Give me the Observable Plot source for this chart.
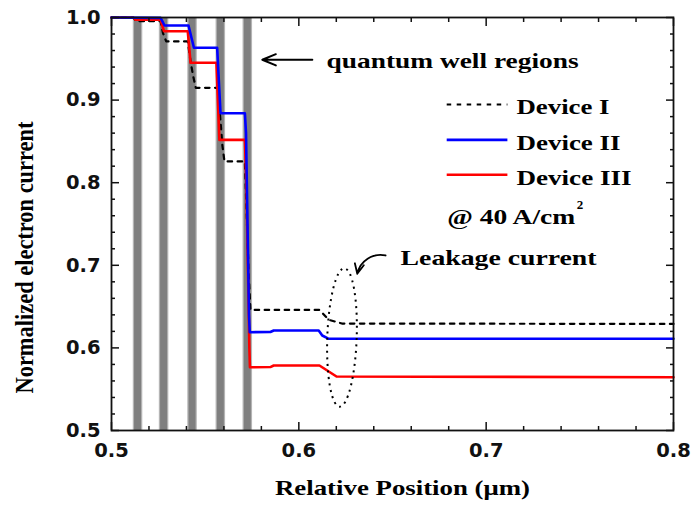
<!DOCTYPE html>
<html>
<head>
<meta charset="utf-8">
<script src="https://cdn.jsdelivr.net/npm/d3@7"></script>
<script src="https://cdn.jsdelivr.net/npm/@observablehq/plot@0.6"></script>
<style>
  body { margin: 0; background: #fff; }
  svg { display: block; }
</style>
</head>
<body>
<div id="chart"></div>
<script>
// ---------- data ----------
const devices = ["Device I", "Device II", "Device III"];

const xDeviceI = [0.5, 0.5117, 0.5130, 0.5262, 0.5275, 0.5292, 0.5407, 0.5420, 0.5435, 0.5450, 0.5568, 0.5580, 0.5592, 0.5603, 0.5712, 0.5722, 0.5732, 0.5742, 0.6110, 0.6160, 0.6230, 0.8];
const yDeviceI = [1.0, 1.0, 0.9955, 0.9955, 0.9810, 0.9710, 0.9710, 0.9500, 0.9300, 0.9149, 0.9149, 0.8800, 0.8450, 0.8257, 0.8257, 0.7600, 0.6900, 0.6460, 0.6460, 0.6340, 0.6295, 0.6290];

const xDeviceII = [0.5, 0.5262, 0.5283, 0.5411, 0.5440, 0.5564, 0.5582, 0.5712, 0.5718, 0.5726, 0.5734, 0.5738, 0.5848, 0.5866, 0.6106, 0.6125, 0.6160, 0.8];
const yDeviceII = [1.0, 0.9995, 0.9903, 0.9903, 0.9633, 0.9633, 0.8841, 0.8841, 0.8600, 0.7500, 0.6400, 0.6190, 0.6192, 0.6211, 0.6211, 0.6150, 0.6110, 0.6110];

const xDeviceIII = [0.5, 0.5117, 0.5128, 0.5262, 0.5280, 0.5407, 0.5422, 0.5560, 0.5576, 0.5712, 0.5720, 0.5728, 0.5736, 0.5739, 0.5848, 0.5866, 0.6110, 0.6201, 0.8];
const yDeviceIII = [1.0, 1.0, 0.9972, 0.9972, 0.9834, 0.9834, 0.9452, 0.9452, 0.8519, 0.8519, 0.8000, 0.7000, 0.6000, 0.5766, 0.5768, 0.5787, 0.5787, 0.5654, 0.5645];

const wellCenters = [0.5139, 0.5278, 0.5430, 0.5581, 0.5725];

const xMajor = [0.5, 0.6, 0.7, 0.8];
const xMinor = [0.52, 0.54, 0.56, 0.58, 0.62, 0.64, 0.66, 0.68, 0.72, 0.74, 0.76, 0.78];
const yMajor = [0.5, 0.6, 0.7, 0.8, 0.9, 1.0];
const yMinor = [0.52, 0.54, 0.56, 0.58, 0.62, 0.64, 0.66, 0.68, 0.72, 0.74, 0.76, 0.78, 0.82, 0.84, 0.86, 0.88, 0.92, 0.94, 0.96, 0.98];

const xLabel = "Relative Position (μm)";
const yLabel = "Normalized electron current";
const wellText = "quantum well regions";
const leakText = "Leakage current";
const condText = "@ 40 A/cm";
const condSup = "2";

// ---------- tables built from the arrays ----------
const toRows = (name, xs, ys) => xs.map((x, i) => ({device: name, x, y: ys[i]}));
const rowsI = toRows(devices[0], xDeviceI, yDeviceI);
const rowsII = toRows(devices[1], xDeviceII, yDeviceII);
const rowsIII = toRows(devices[2], xDeviceIII, yDeviceIII);

// ---------- styles / layout ----------
const styleI = {stroke: "#000", strokeWidth: 2.2, strokeDasharray: "4.5,5.5"};
const styleII = {stroke: "#0000ff", strokeWidth: 2.6};
const styleIII = {stroke: "#ff0000", strokeWidth: 2.6};
const legendStyles = [styleI, styleII, styleIII];
const legendLayout = {x1: 0.6792, x2: 0.7116, tx: 0.7162, ys: [0.8947, 0.8519, 0.8096]};
const serif = "Liberation Serif, Times New Roman, serif";
const textWidths = {
  [yLabel]: 272, [xLabel]: 255, [wellText]: 252, [leakText]: 196,
  "Device I": 93, "Device II": 104, "Device III": 115, [condText]: 128
};
const ellipseSpec = {cx: 0.6233, cy: 0.612, rx: 0.00785, ry: 0.0838};

function ellipseMark(index, scales) {
  if (!scales || !scales.x || !scales.y) return null;
  const cx = scales.x(ellipseSpec.cx), cy = scales.y(ellipseSpec.cy);
  const rx = Math.abs(scales.x(ellipseSpec.cx + ellipseSpec.rx) - cx);
  const ry = Math.abs(scales.y(ellipseSpec.cy + ellipseSpec.ry) - cy);
  const e = document.createElementNS("http://www.w3.org/2000/svg", "ellipse");
  e.setAttribute("cx", cx); e.setAttribute("cy", cy);
  e.setAttribute("rx", rx); e.setAttribute("ry", ry);
  e.setAttribute("fill", "none"); e.setAttribute("stroke", "#000");
  e.setAttribute("stroke-width", 2); e.setAttribute("stroke-dasharray", "2,4.5");
  e.setAttribute("transform", `rotate(2 ${cx} ${cy})`);
  return e;
}

const tickCommon = {stroke: "#111", strokeWidth: 1.5, label: null, tickFormat: () => ""};
const labelCommon = {label: null, tickSize: 0, tickFormat: d3.format(".1f"),
  fontSize: 19.5, fontWeight: "bold", fontFamily: "DejaVu Sans", fill: "#111"};

const plot = Plot.plot({
  width: 691,
  height: 510,
  marginLeft: 111,
  marginRight: 18,
  marginTop: 17,
  marginBottom: 80,
  style: {background: "#fff", overflow: "visible"},
  x: {domain: [0.5, 0.8]},
  y: {domain: [0.5, 1.0]},
  marks: [
    // quantum well bars
    Plot.ruleX(wellCenters, {x: d => d, stroke: "#b4b4b4", strokeWidth: 9.5}),
    Plot.ruleX(wellCenters, {x: d => d, stroke: "#7f7f7f", strokeWidth: 7}),
    // curves
    Plot.line(rowsI, {x: "x", y: "y", ...styleI}),
    Plot.line(rowsIII, {x: "x", y: "y", ...styleIII}),
    Plot.line(rowsII, {x: "x", y: "y", ...styleII}),
    // frame
    Plot.frame({stroke: "#111", strokeWidth: 1.8}),
    // inward ticks
    Plot.axisX({ticks: xMajor, anchor: "bottom", tickSize: -8, ...tickCommon}),
    Plot.axisX({ticks: xMajor, anchor: "top", tickSize: -8, ...tickCommon}),
    Plot.axisX({ticks: xMinor, anchor: "bottom", tickSize: -4, ...tickCommon}),
    Plot.axisX({ticks: xMinor, anchor: "top", tickSize: -4, ...tickCommon}),
    Plot.axisY({ticks: yMajor, anchor: "left", tickSize: -8, ...tickCommon}),
    Plot.axisY({ticks: yMajor, anchor: "right", tickSize: -8, ...tickCommon}),
    Plot.axisY({ticks: yMinor, anchor: "left", tickSize: -4, ...tickCommon}),
    Plot.axisY({ticks: yMinor, anchor: "right", tickSize: -4, ...tickCommon}),
    // tick labels
    Plot.axisX({ticks: xMajor, anchor: "bottom", tickPadding: 13, ...labelCommon}),
    Plot.axisY({ticks: yMajor, anchor: "left", tickPadding: 11, ...labelCommon}),
    // axis titles
    Plot.text([xLabel], {text: d => d, frameAnchor: "bottom", dx: 10, dy: 64,
      fontFamily: serif, fontWeight: "bold", fontSize: 21, fill: "#000"}),
    Plot.text([yLabel], {text: d => d, frameAnchor: "left", rotate: -90, dx: -87, dy: 169.5,
      textAnchor: "start", fontFamily: serif, fontWeight: "bold", fontSize: 25, fill: "#000"}),
    // quantum well annotation
    Plot.arrow([wellText], {x1: 0.6072, x2: 0.5805, y1: 0.9488, y2: 0.9488,
      stroke: "#000", strokeWidth: 2, headLength: 11, headAngle: 45}),
    Plot.text([wellText], {text: d => d, x: 0.6148, y: 0.9472, textAnchor: "start",
      fontFamily: serif, fontWeight: "bold", fontSize: 21, fill: "#000"}),
    // legend
    ...devices.map((name, i) => Plot.ruleY([name], {y: legendLayout.ys[i],
      x1: legendLayout.x1, x2: legendLayout.x2, ...legendStyles[i]})),
    Plot.text(devices, {text: d => d, x: legendLayout.tx, y: (d, i) => legendLayout.ys[i],
      dy: 3, textAnchor: "start", fontFamily: serif, fontWeight: "bold", fontSize: 21, fill: "#000"}),
    Plot.text([condText], {text: d => d, x: 0.6792, y: 0.7575, textAnchor: "start",
      fontFamily: serif, fontWeight: "bold", fontSize: 20, fill: "#000"}),
    Plot.text([condSup], {text: d => d, x: 0.7484, y: 0.7735, textAnchor: "start",
      fontFamily: serif, fontWeight: "bold", fontSize: 13, fill: "#000"}),
    // leakage annotation
    ellipseMark,
    Plot.arrow([leakText], {x1: 0.6463, y1: 0.7119, x2: 0.6312, y2: 0.6897, bend: -45,
      stroke: "#000", strokeWidth: 1.8, headLength: 9, headAngle: 50}),
    Plot.text([leakText], {text: d => d, x: 0.6543, y: 0.7087, textAnchor: "start",
      fontFamily: serif, fontWeight: "bold", fontSize: 21, fill: "#000"})
  ]
});

plot.querySelectorAll("text").forEach(t => {
  const w = textWidths[t.textContent];
  if (w) {
    t.setAttribute("textLength", w);
    t.setAttribute("lengthAdjust", "spacingAndGlyphs");
  }
});

document.getElementById("chart").appendChild(plot);
</script>
</body>
</html>
